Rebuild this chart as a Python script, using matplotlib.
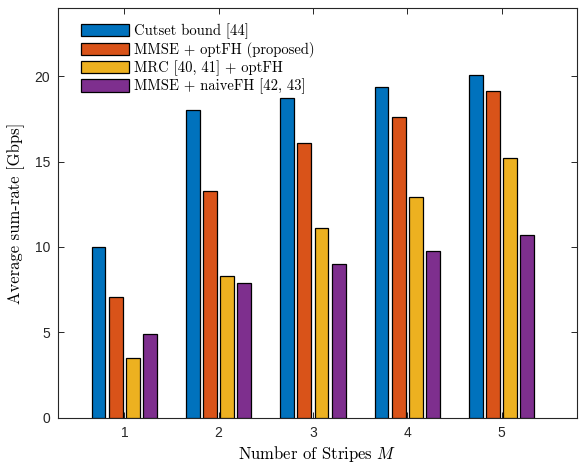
import matplotlib
matplotlib.use("Agg")
import matplotlib.pyplot as plt
import numpy as np

plt.rcParams['mathtext.fontset'] = 'cm'

stripes = [1, 2, 3, 4, 5]
series_names = ["Cutset bound [44]", "MMSE + optFH (proposed)",
                "MRC [40, 41] + optFH", "MMSE + naiveFH [42, 43]"]
cutset = [10.0, 18.05, 18.74, 19.38, 20.08]
mmse_opt = [7.06, 13.30, 16.08, 17.60, 19.12]
mrc_opt = [3.51, 8.29, 11.11, 12.92, 15.20]
mmse_naive = [4.88, 7.88, 9.01, 9.77, 10.72]
colors = ["#0072BD", "#D95319", "#EDB120", "#7E2F8E"]
yticks = [0, 5, 10, 15, 20]

fig = plt.figure(figsize=(5.79, 4.66), dpi=100)
ax = fig.add_axes([0.1007, 0.1036, 0.8958, 0.8794])

series = [cutset, mmse_opt, mrc_opt, mmse_naive]
x = np.array(stripes, dtype=float)
n = len(series)
gw = n / (n + 1.5)
step = gw / n
width = step * 0.8
for i, (vals, name, c) in enumerate(zip(series, series_names, colors)):
    off = (i - (n - 1) / 2) * step
    ax.bar(x + off, vals, width=width, color=c, edgecolor='black',
           linewidth=0.9, label=name, zorder=3)

ax.set_xlim(0.3, 5.8)
ax.set_ylim(0, 24)
ax.set_xticks(stripes)
ax.set_yticks(yticks)
ax.tick_params(direction='in', top=True, right=True, length=4, width=0.7,
               colors='#262626', labelsize=10, pad=6)
for s in ax.spines.values():
    s.set_color('#262626')
    s.set_linewidth(0.8)
for lab in ax.get_xticklabels() + ax.get_yticklabels():
    lab.set_family('Liberation Sans')

ax.set_xlabel(r'Number of Stripes $M$', fontfamily='cmr10', fontsize=12, labelpad=3)
ax.set_ylabel('Average sum-rate [Gbps]', fontfamily='cmr10', fontsize=12, labelpad=7)

leg = ax.legend(loc='upper left', bbox_to_anchor=(0.026, 0.983), frameon=False,
                prop={'family': 'cmr10', 'size': 10.5}, handlelength=3.3,
                handleheight=0.9, labelspacing=0.18, handletextpad=0.35,
                borderaxespad=0.2)

fig.savefig('out.png', dpi=100)
